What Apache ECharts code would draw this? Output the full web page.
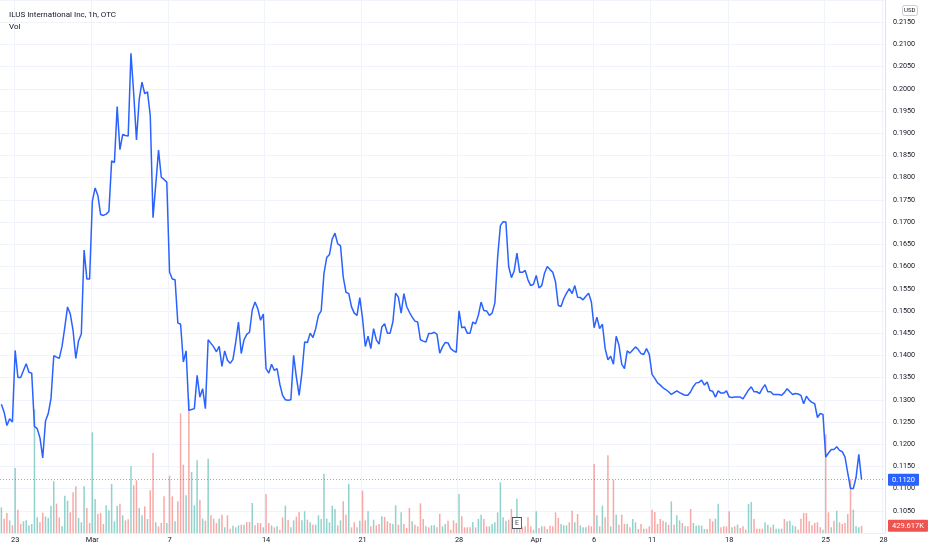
<!DOCTYPE html>
<html><head><meta charset="utf-8">
<script src="https://cdn.jsdelivr.net/npm/echarts@6/dist/echarts.min.js"></script>
<style>html,body{margin:0;padding:0;background:#fff}#c{width:932px;height:550px}</style>
</head><body><div id="c"></div>
<script>
// ---- data ----
const tradingDays = [
 "2022-02-22","2022-02-23","2022-02-24","2022-02-25","2022-02-28",
 "2022-03-01","2022-03-02","2022-03-03","2022-03-04",
 "2022-03-07","2022-03-08","2022-03-09","2022-03-10","2022-03-11",
 "2022-03-14","2022-03-15","2022-03-16","2022-03-17","2022-03-18",
 "2022-03-21","2022-03-22","2022-03-23","2022-03-24","2022-03-25",
 "2022-03-28","2022-03-29","2022-03-30","2022-03-31","2022-04-01",
 "2022-04-04","2022-04-05","2022-04-06","2022-04-07","2022-04-08",
 "2022-04-11","2022-04-12","2022-04-13","2022-04-14",
 "2022-04-18","2022-04-19","2022-04-20","2022-04-21","2022-04-22",
 "2022-04-25","2022-04-26","2022-04-27","2022-04-28"
];
const sessionHours = ["09:30","10:30","11:30","12:30","13:30","14:30","15:30"];
const dayTickLabels = {
 "2022-02-23":"23","2022-03-01":"Mar","2022-03-07":"7","2022-03-14":"14",
 "2022-03-21":"21","2022-03-28":"28","2022-04-01":"Apr","2022-04-06":"6",
 "2022-04-11":"11","2022-04-18":"18","2022-04-25":"25","2022-04-28":"28"
};
const price = [
 0.1290,0.1272,0.1242,0.1257,0.1250,0.1411,0.1350,0.1350,0.1366,0.1381,
 0.1362,0.1360,0.1240,0.1235,0.1214,0.1169,0.1252,0.1269,0.1303,0.1399,
 0.1396,0.1393,0.1420,0.1463,0.1509,0.1493,0.1456,0.1393,0.1433,0.1448,
 0.1637,0.1572,0.1572,0.1747,0.1777,0.1760,0.1717,0.1715,0.1718,0.1724,
 0.1838,0.1834,0.1960,0.1863,0.1897,0.1895,0.1894,0.2080,0.1989,0.1885,
 0.1977,0.2015,0.1989,0.1993,0.1940,0.1710,0.1785,0.1862,0.1801,0.1796,
 0.1790,0.1587,0.1572,0.1570,0.1473,0.1470,0.1385,0.1410,0.1276,0.1278,
 0.1280,0.1355,0.1306,0.1325,0.1280,0.1435,0.1427,0.1419,0.1408,0.1420,
 0.1375,0.1410,0.1389,0.1382,0.1391,0.1430,0.1475,0.1404,0.1435,0.1447,
 0.1452,0.1502,0.1520,0.1505,0.1479,0.1493,0.1370,0.1360,0.1380,0.1366,
 0.1370,0.1335,0.1310,0.1300,0.1299,0.1300,0.1400,0.1351,0.1310,0.1360,
 0.1430,0.1429,0.1450,0.1440,0.1460,0.1490,0.1500,0.1584,0.1620,0.1627,
 0.1662,0.1675,0.1651,0.1647,0.1576,0.1542,0.1539,0.1509,0.1495,0.1490,
 0.1530,0.1483,0.1420,0.1443,0.1415,0.1460,0.1435,0.1425,0.1464,0.1471,
 0.1450,0.1450,0.1475,0.1540,0.1531,0.1495,0.1539,0.1510,0.1497,0.1486,
 0.1477,0.1475,0.1435,0.1432,0.1430,0.1449,0.1449,0.1452,0.1447,0.1405,
 0.1419,0.1429,0.1428,0.1415,0.1410,0.1407,0.1500,0.1462,0.1464,0.1450,
 0.1450,0.1475,0.1471,0.1490,0.1520,0.1501,0.1500,0.1490,0.1495,0.1518,
 0.1621,0.1692,0.1701,0.1700,0.1600,0.1575,0.1590,0.1630,0.1587,0.1587,
 0.1591,0.1570,0.1557,0.1560,0.1580,0.1552,0.1557,0.1585,0.1600,0.1593,
 0.1587,0.1565,0.1512,0.1510,0.1528,0.1540,0.1550,0.1539,0.1557,0.1531,
 0.1530,0.1525,0.1533,0.1540,0.1520,0.1462,0.1486,0.1460,0.1470,0.1415,
 0.1390,0.1398,0.1380,0.1443,0.1423,0.1380,0.1370,0.1410,0.1405,0.1412,
 0.1419,0.1413,0.1404,0.1402,0.1415,0.1402,0.1357,0.1348,0.1338,0.1333,
 0.1327,0.1323,0.1318,0.1312,0.1316,0.1320,0.1316,0.1313,0.1310,0.1310,
 0.1318,0.1330,0.1338,0.1339,0.1344,0.1333,0.1340,0.1321,0.1319,0.1306,
 0.1320,0.1315,0.1315,0.1320,0.1306,0.1305,0.1306,0.1306,0.1306,0.1302,
 0.1312,0.1322,0.1329,0.1318,0.1318,0.1314,0.1325,0.1334,0.1318,0.1318,
 0.1312,0.1312,0.1312,0.1310,0.1316,0.1325,0.1318,0.1312,0.1314,0.1313,
 0.1310,0.1291,0.1308,0.1299,0.1294,0.1291,0.1260,0.1269,0.1267,0.1171,
 0.1180,0.1188,0.1188,0.1194,0.1186,0.1183,0.1171,0.1135,0.1100,0.1100,
 0.1125,0.1177,0.1120
];
const volumeK = [
 1540,860,1200,760,460,3900,1400,540,700,760,
 460,540,7420,940,640,1220,1000,900,1640,3100,
 1760,940,400,2240,1940,1240,2440,2800,900,640,
 2800,1500,600,6040,2040,1140,1200,540,1660,1360,
 2940,700,1640,1760,1060,760,820,4000,2860,3160,
 1500,1060,1600,840,2560,4800,640,400,600,2200,
 600,3440,2200,700,1900,7180,4100,2260,8020,3660,
 1660,4360,2000,860,740,4460,1060,860,600,860,
 1100,340,1060,260,440,340,460,500,500,660,
 660,1800,460,600,600,340,2340,600,460,340,
 400,200,940,1640,780,340,760,980,1260,760,
 1300,800,640,500,500,1060,840,3560,860,640,
 1640,1440,460,760,1900,1100,2940,340,640,340,
 740,2540,760,1300,400,800,460,540,1000,960,
 700,600,540,1660,500,1240,540,300,1500,700,
 500,400,1780,840,400,340,460,460,340,1160,
 400,540,740,200,760,600,2340,1000,340,340,
 340,660,340,840,1100,840,400,400,540,640,
 1240,3040,940,740,800,1440,760,2060,400,340,
 400,940,400,200,1300,300,400,400,240,440,
 400,1240,900,540,460,460,640,1340,640,1140,
 460,340,340,440,400,4140,1060,400,1640,940,
 4660,400,3200,1100,500,1100,540,540,340,840,
 640,240,540,260,260,400,1400,1260,540,840,
 740,640,500,1900,500,1060,760,600,400,400,
 1440,600,440,460,440,240,240,860,700,860,
 1760,340,400,400,1300,340,400,500,300,400,
 200,1740,1860,840,260,260,260,640,500,340,
 500,260,260,260,840,700,740,460,400,200,
 860,1200,1200,700,460,600,640,340,200,5920,
 1240,340,740,1340,640,540,600,1140,3220,1400,
 400,340,429.617
];
const volumeUp = [
 1,0,0,1,0,1,0,0,1,1, 1,1,1,1,0,0,1,1,1,1, 0,0,1,1,1,0,0,0,1,1,
 1,0,0,1,1,0,0,0,1,1, 1,1,1,0,1,0,0,1,0,0, 1,1,0,1,0,0,1,0,0,0,
 1,0,0,1,0,0,0,1,0,1, 1,1,0,1,0,1,0,0,0,1, 0,1,0,0,1,1,1,0,1,0,
 0,1,0,0,0,1,0,0,1,0, 1,0,0,1,0,1,1,0,0,1, 1,0,1,0,1,1,1,1,1,1,
 1,1,0,1,0,0,1,0,0,1, 1,0,0,1,0,1,0,0,1,0, 0,0,1,1,0,1,0,0,0,1,
 0,0,0,0,1,0,1,1,0,0, 1,1,0,0,0,0,1,0,0,0, 0,1,0,1,1,0,0,1,1,1,
 1,1,1,1,0,0,0,1,0,0, 0,0,0,1,1,0,1,0,1,0, 0,0,0,1,1,1,0,0,1,0,
 1,1,1,0,0,0,1,0,1,0, 0,1,0,1,0,0,0,1,0,1, 1,0,0,1,0,0,0,0,0,0,
 0,1,0,1,0,1,1,0,1,0, 0,1,1,1,1,1,0,0,0,1, 1,0,0,0,0,1,0,1,0,0,
 0,1,1,0,0,0,0,1,1,0, 1,1,1,1,0,1,1,1,1,0, 0,0,0,0,0,0,0,0,1,0,
 0,1,0,1,0,0,0,0,0,1, 1,1,0
];
const lastPrice = 0.1120;
const lastVolumeK = 429.617;
const earningsBar = "2022-03-31 09:30";

// ---- categories (hourly bars) ----
const categories = [];
tradingDays.forEach((d, k) => {
  let hrs = sessionHours;
  if (k === 0) hrs = sessionHours.slice(2);
  if (k === tradingDays.length - 1) hrs = sessionHours.slice(0, 1);
  hrs.forEach(h => categories.push(d + ' ' + h));
});
const isTick = (idx, val) => val.slice(11) === '09:30' && dayTickLabels[val.slice(0, 10)] !== undefined;

const UP = 'rgba(38,166,154,0.5)', DOWN = 'rgba(239,83,80,0.5)';
const FONT = 'Roboto, "Liberation Sans", sans-serif';

const chart = echarts.init(document.getElementById('c'), null, {renderer: 'canvas'});
chart.setOption({
  animation: false,
  backgroundColor: '#ffffff',
  title: [
    {text: 'ILUS International Inc, 1h, OTC', left: 4, top: 6,
     textStyle: {fontSize: 8, fontWeight: 'normal', color: '#131722', fontFamily: FONT}},
    {text: 'Vol', left: 4, top: 18,
     textStyle: {fontSize: 8, fontWeight: 'normal', color: '#131722', fontFamily: FONT}}
  ],
  grid: {left: -2, top: 0, width: 887, height: 533, containLabel: false},
  xAxis: {
    type: 'category', data: categories, boundaryGap: true,
    axisLine: {show: true, lineStyle: {color: '#eceef3'}},
    axisTick: {show: false},
    axisLabel: {interval: isTick, formatter: v => dayTickLabels[v.slice(0, 10)] || '',
      fontSize: 7.4, color: '#131722', margin: 4, fontFamily: FONT},
    splitLine: {show: true, interval: isTick, lineStyle: {color: '#f0f3fa', width: 1}}
  },
  yAxis: [
    {type: 'value', position: 'right', min: 0.1, max: 0.22, interval: 0.005, scale: false,
     axisLine: {show: true, lineStyle: {color: '#e0e3eb'}},
     axisTick: {show: false},
     axisLabel: {formatter: v => v.toFixed(4), fontSize: 7.2, color: '#131722', margin: 8,
       showMinLabel: false, showMaxLabel: false, fontFamily: FONT},
     splitLine: {show: true, lineStyle: {color: '#f0f3fa', width: 1}}},
    {type: 'value', min: 0, max: 31980, show: false, splitLine: {show: false}}
  ],
  series: [
    {
      type: 'bar', yAxisIndex: 1, barWidth: 1.5, silent: true,
      data: volumeK.map((v, i) => ({value: v, itemStyle: {color: volumeUp[i] ? UP : DOWN}})),
      markLine: {
        symbol: 'none', silent: true, animation: false, precision: 3,
        lineStyle: {color: 'rgba(0,0,0,0)', width: 1, type: 'solid'},
        label: {position: 'end', distance: 3, formatter: lastVolumeK.toFixed(3) + 'K',
          backgroundColor: '#ef5350', color: '#ffffff', padding: [2, 4, 2, 4], fontSize: 7.5,
          borderRadius: 1, fontFamily: FONT},
        data: [{yAxis: lastVolumeK}]
      },
      markPoint: {
        silent: true, animation: false,
        data: [{coord: [earningsBar, 600], symbol: 'rect', symbolSize: [9, 11],
          itemStyle: {color: '#ffffff', borderColor: '#50535e', borderWidth: 1},
          label: {show: true, position: 'inside', formatter: 'E', color: '#50535e', fontSize: 7, fontFamily: FONT}}]
      }
    },
    {
      type: 'line', yAxisIndex: 0, data: price, showSymbol: false, silent: true,
      lineStyle: {color: '#2962ff', width: 1.5}, itemStyle: {color: '#2962ff'},
      markLine: {
        symbol: 'none', silent: true, animation: false, precision: 4,
        lineStyle: {type: [1, 2], color: 'rgba(41,98,255,0.55)', width: 1},
        label: {position: 'end', distance: 3, formatter: lastPrice.toFixed(4),
          backgroundColor: '#2962ff', color: '#ffffff', padding: [2, 4, 2, 4], fontSize: 7.5,
          borderRadius: 1, fontFamily: FONT},
        data: [{yAxis: lastPrice}]
      }
    }
  ],
  graphic: [
    {type: 'rect', left: 902, top: 5, shape: {width: 15, height: 10, r: 2},
     style: {fill: '#ffffff', stroke: '#c9ccd6', lineWidth: 1}},
    {type: 'text', left: 904, top: 7.5,
     style: {text: 'USD', fontSize: 6, fill: '#131722', fontFamily: FONT}}
  ]
});
</script>
</body></html>
